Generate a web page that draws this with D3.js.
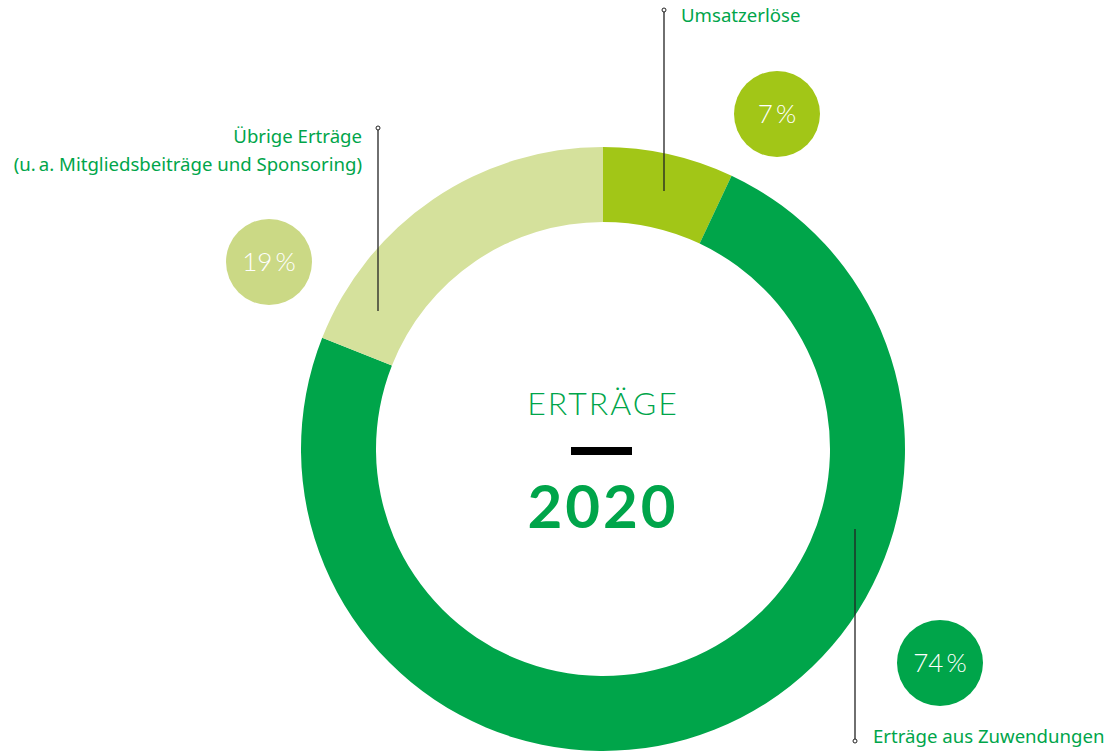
<!DOCTYPE html>
<html>
<head>
<meta charset="utf-8">
<script src="https://cdn.jsdelivr.net/npm/d3@7"></script>
<style>
  body { margin: 0; background: #fff; }
  svg text { font-family: Lato, "Noto Sans", sans-serif; }
  svg text.label { font-family: "Noto Sans", Lato, sans-serif; }
</style>
</head>
<body>
<div class="container"></div>
<script>
const WIDTH = 1117;
const HEIGHT = 752;
const CX = 603;
const CY = 449;
const OUTER_R = 302;
const INNER_R = 227;

// data
var categories = ['Umsatzerlöse', 'Erträge aus Zuwendungen', 'Übrige Erträge'];
var values = [7, 74, 19];
var percentLabels = ['7\u2009%', '74\u2009%', '19\u2009%'];
var sliceColors = ['#a2c617', '#00a54a', '#d5e19c'];
var bubbleColors = ['#a2c617', '#00a54a', '#cbd985'];
var title = 'ERTRÄGE';
var year = '2020';

// layout per slice (bubble centre, leader line, label)
var layout = [
	{ bx: 777, by: 114, lx: 664, ly1: 10, ly2: 191, dotY: 10,
	  tx: 681, ty: 22, anchor: 'start', lines: ['Umsatzerlöse'] },
	{ bx: 940, by: 663, lx: 855, ly1: 529, ly2: 741, dotY: 741,
	  tx: 873, ty: 743, anchor: 'start', lines: ['Erträge aus Zuwendungen'] },
	{ bx: 269, by: 262, lx: 378, ly1: 128, ly2: 311, dotY: 128,
	  tx: 362, ty: 143, anchor: 'end', lines: ['Übrige Erträge', '(u.\u2009a. Mitgliedsbeiträge und Sponsoring)'] }
];

var svg = d3.select('.container').append('svg')
	.attr('width', WIDTH)
	.attr('height', HEIGHT);

var pie = d3.pie().sort(null).value(function(d){ return d; });
var arc = d3.arc().innerRadius(INNER_R).outerRadius(OUTER_R);

var g = svg.append('g')
	.attr('transform', 'translate(' + CX + ',' + CY + ')');

g.selectAll('path')
	.data(pie(values))
	.enter().append('path')
	.attr('d', arc)
	.attr('fill', function(d, i){ return sliceColors[i]; });

// leader lines
var leaders = svg.append('g');
layout.forEach(function(l){
	leaders.append('line')
		.attr('x1', l.lx).attr('x2', l.lx)
		.attr('y1', l.ly1).attr('y2', l.ly2)
		.attr('stroke', '#222')
		.attr('stroke-width', 1.3);
	leaders.append('circle')
		.attr('cx', l.lx).attr('cy', l.dotY).attr('r', 2)
		.attr('fill', '#fff')
		.attr('stroke', '#222')
		.attr('stroke-width', 1);
});

// bubbles
var bubbles = svg.append('g').selectAll('g')
	.data(values)
	.enter().append('g')
	.attr('transform', function(d, i){ return 'translate(' + layout[i].bx + ',' + layout[i].by + ')'; });

bubbles.append('circle')
	.attr('r', 43)
	.attr('fill', function(d, i){ return bubbleColors[i]; });

bubbles.append('text')
	.attr('text-anchor', 'middle')
	.attr('dy', 9)
	.attr('fill', '#fff')
	.attr('font-size', 26)
	.attr('font-weight', 300)
	.text(function(d, i){ return percentLabels[i]; });

// category labels
layout.forEach(function(l, i){
	var t = svg.append('text')
		.attr('class', 'label')
		.attr('x', l.tx).attr('y', l.ty)
		.attr('text-anchor', l.anchor)
		.attr('fill', '#00a54a')
		.attr('font-size', 18.6);
	l.lines.forEach(function(s, k){
		t.append('tspan')
			.attr('x', l.tx)
			.attr('dy', k === 0 ? 0 : 28)
			.text(s);
	});
});

// centre title
svg.append('text')
	.attr('x', CX).attr('y', 415)
	.attr('text-anchor', 'middle')
	.attr('fill', '#00a54a')
	.attr('font-size', 32)
	.attr('font-weight', 300)
	.attr('letter-spacing', 2)
	.text(title);

svg.append('rect')
	.attr('x', 571).attr('y', 447)
	.attr('width', 61).attr('height', 8)
	.attr('fill', '#000');

svg.append('text')
	.attr('x', CX).attr('y', 528)
	.attr('text-anchor', 'middle')
	.attr('fill', '#00a54a')
	.attr('font-size', 60)
	.attr('font-weight', 700)
	.attr('letter-spacing', 3)
	.text(year);
</script>
</body>
</html>
